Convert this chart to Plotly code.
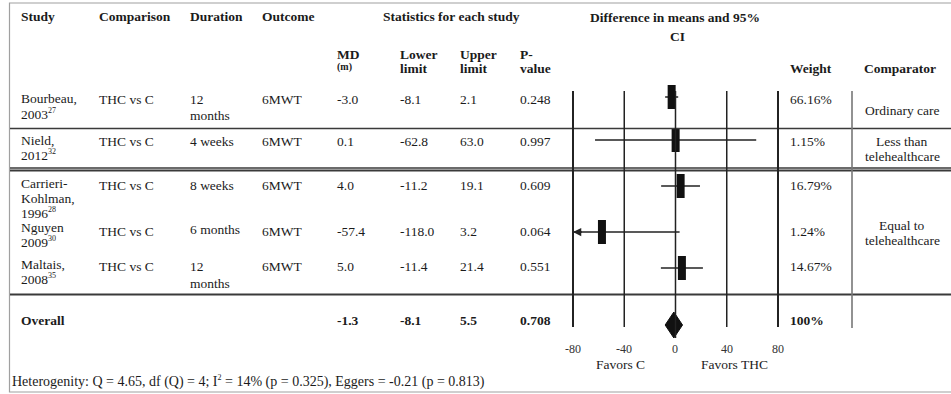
import plotly.graph_objects as go

# ---------------- data ----------------
SUP = "<sup><span style='font-size:8px'>{}</span></sup>"
study_lines = [["Bourbeau,", "2003" + SUP.format(27)],
               ["Nield,", "2012" + SUP.format(32)],
               ["Carrieri-", "Kohlman,", "1996" + SUP.format(28)],
               ["Nguyen", "2009" + SUP.format(30)],
               ["Maltais,", "2008" + SUP.format(35)]]
comparison = ["THC vs C", "THC vs C", "THC vs C", "THC vs C", "THC vs C"]
duration_lines = [["12", "months"], ["4 weeks"], ["8 weeks"], ["6 months"], ["12", "months"]]
outcome = ["6MWT", "6MWT", "6MWT", "6MWT", "6MWT"]
md = [-3.0, 0.1, 4.0, -57.4, 5.0]
lower = [-8.1, -62.8, -11.2, -118.0, -11.4]
upper = [2.1, 63.0, 19.1, 3.2, 21.4]
pvalue = ["0.248", "0.997", "0.609", "0.064", "0.551"]
weight = ["66.16%", "1.15%", "16.79%", "1.24%", "14.67%"]
comparator_groups = [["Ordinary care"], ["Less than", "telehealthcare"], ["Equal to", "telehealthcare"]]

overall_md = -1.3
overall_lower = -8.1
overall_upper = 5.5
overall_p = "0.708"
overall_weight = "100%"

tick_vals = [-80, -40, 0, 40, 80]
tick_labels = ["-80", "-40", "0", "40", "80"]
axis_min, axis_max = -80, 80
heterogeneity = ("Heterogenity: Q = 4.65, df (Q) = 4; I" + SUP.format(2) + " = 14% (p = 0.325), "
                 "Eggers = -0.21 (p = 0.813)")

# ---------------- layout constants (pixels) ----------------
W, H = 951, 394
FONT = "Liberation Serif"
FS = 13.5
TXT = "#1b1b1b"
LINE = "#3a3a3a"

col_x = dict(study=19, comp=97, dur=188, outc=260, md=335, low=398, up=458, p=518, weight=788, comparator=862)
study_y = [[98, 114], [140, 155], [183, 198, 213], [227, 242], [264, 279]]
duration_y = [[99, 115], [141], [185], [229], [266, 283]]
value_y = [99, 141, 185, 231, 266]
marker_y = [97, 140, 186, 232, 268]
comparator_y = [[110], [141, 156], [225, 240]]
overall_y = 320
overall_marker_y = 325

x_left_px, x_right_px = 573, 778
pad = 3
ppu = (x_right_px - x_left_px) / (axis_max - axis_min)
dom0 = (x_left_px - pad * ppu) / W
dom1 = (x_right_px + pad * ppu) / W

fig = go.Figure()
ann = []


def txt(x, y, s, anchor="left", size=FS, bold=False, xref="paper", color=TXT):
    if bold:
        s = "<b>" + s + "</b>"
    ann.append(dict(x=x / W if xref == "paper" else x, y=y, xref=xref, yref="y", text=s,
                    showarrow=False, xanchor=anchor, yanchor="middle",
                    font=dict(family=FONT, size=size, color=color)))


# headers
txt(col_x["study"], 16, "Study", bold=True)
txt(col_x["comp"], 16, "Comparison", bold=True)
txt(col_x["dur"], 16, "Duration", bold=True)
txt(col_x["outc"], 16, "Outcome", bold=True)
txt(451, 16, "Statistics for each study", anchor="center", bold=True)
txt(675, 17, "Difference in means and 95%", anchor="center", bold=True)
txt(677, 36, "CI", anchor="center", bold=True)
txt(col_x["md"], 54, "MD", bold=True)
txt(col_x["md"], 67, "(m)", bold=True, size=10)
txt(col_x["low"], 54, "Lower", bold=True)
txt(col_x["low"], 68, "limit", bold=True)
txt(col_x["up"], 54, "Upper", bold=True)
txt(col_x["up"], 68, "limit", bold=True)
txt(col_x["p"], 54, "P-", bold=True)
txt(col_x["p"], 68, "value", bold=True)
txt(col_x["weight"], 68, "Weight", bold=True)
txt(col_x["comparator"], 68, "Comparator", bold=True)

# study rows
for i in range(len(md)):
    for s, y in zip(study_lines[i], study_y[i]):
        txt(col_x["study"], y, s)
    txt(col_x["comp"], value_y[i], comparison[i])
    for s, y in zip(duration_lines[i], duration_y[i]):
        txt(col_x["dur"], y, s)
    txt(col_x["outc"], value_y[i], outcome[i])
    txt(col_x["md"], value_y[i], f"{md[i]:.1f}")
    txt(col_x["low"], value_y[i], f"{lower[i]:.1f}")
    txt(col_x["up"], value_y[i], f"{upper[i]:.1f}")
    txt(col_x["p"], value_y[i], pvalue[i])
    txt(col_x["weight"], value_y[i], weight[i])

for grp, ys in zip(comparator_groups, comparator_y):
    for s, y in zip(grp, ys):
        txt(902, y, s, anchor="center")

# overall row
txt(col_x["study"], overall_y, "Overall", bold=True)
txt(col_x["md"], overall_y, f"{overall_md:.1f}", bold=True)
txt(col_x["low"], overall_y, f"{overall_lower:.1f}", bold=True)
txt(col_x["up"], overall_y, f"{overall_upper:.1f}", bold=True)
txt(col_x["p"], overall_y, overall_p, bold=True)
txt(col_x["weight"], overall_y, overall_weight, bold=True)

# axis tick labels and favors
for v, lab in zip(tick_vals, tick_labels):
    txt(v, 349, lab, anchor="center", size=12, xref="x", color="#333")
txt(-43, 364, "Favors C", anchor="center", xref="x")
txt(46, 364, "Favors THC", anchor="center", xref="x")
txt(10, 381, heterogeneity, size=14)

# ---------------- shapes ----------------
shapes = []
# outer border
shapes.append(dict(type="rect", xref="paper", yref="y", x0=9.5 / W, x1=1.2, y0=3, y1=392,
                   line=dict(color="#a0a0a0", width=1.2)))
# horizontal separators
for y, w in [(128.5, 1.6), (168, 1.4), (170.5, 1.8), (294.5, 1.8)]:
    shapes.append(dict(type="line", xref="paper", yref="y", x0=10 / W, x1=1.0, y0=y, y1=y,
                       line=dict(color=LINE, width=w)))
# forest vertical grid lines
for v in tick_vals:
    wdt = 2.0 if abs(v) == 80 else 1.5
    y_end = 338 if v == 0 else 327
    shapes.append(dict(type="line", xref="x", yref="y", x0=v, x1=v, y0=91, y1=y_end,
                       line=dict(color="#222", width=wdt)))
# weight/comparator separator
shapes.append(dict(type="line", xref="paper", yref="y", x0=852 / W, x1=852 / W, y0=91, y1=328,
                   line=dict(color="#777", width=1.6)))

# ---------------- forest traces ----------------
lo_clip = [max(l, axis_min) for l in lower]
fig.add_trace(go.Scatter(
    x=md, y=marker_y, mode="markers",
    marker=dict(symbol="line-ns", size=17, color="#111", line=dict(color="#111", width=8)),
    error_x=dict(type="data", symmetric=False,
                 array=[u - m for u, m in zip(upper, md)],
                 arrayminus=[m - l for m, l in zip(md, lo_clip)],
                 width=0, thickness=1.5, color="#222"),
    hoverinfo="skip", showlegend=False))

# arrow for truncated CI
for i in range(len(md)):
    if lower[i] < axis_min:
        ann.append(dict(x=axis_min, y=marker_y[i], xref="x", yref="y",
                        ax=axis_min + 8, ay=marker_y[i], axref="x", ayref="y",
                        showarrow=True, arrowhead=2, arrowsize=1.1, arrowwidth=1.5,
                        arrowcolor="#222", text=""))

# overall diamond
fig.add_trace(go.Scatter(
    x=[overall_lower, overall_md, overall_upper, overall_md, overall_lower],
    y=[overall_marker_y, overall_marker_y - 13, overall_marker_y, overall_marker_y + 13, overall_marker_y],
    mode="lines", fill="toself", fillcolor="#111", line=dict(color="#111", width=1),
    hoverinfo="skip", showlegend=False))

fig.update_layout(
    width=W, height=H, margin=dict(l=0, r=0, t=0, b=0),
    paper_bgcolor="white", plot_bgcolor="rgba(0,0,0,0)",
    xaxis=dict(domain=[dom0, dom1], range=[axis_min - pad, axis_max + pad],
               visible=False, fixedrange=True),
    yaxis=dict(domain=[0, 1], range=[H, 0], visible=False, fixedrange=True),
    annotations=ann, shapes=shapes, showlegend=False)

fig.write_html("out.html")
